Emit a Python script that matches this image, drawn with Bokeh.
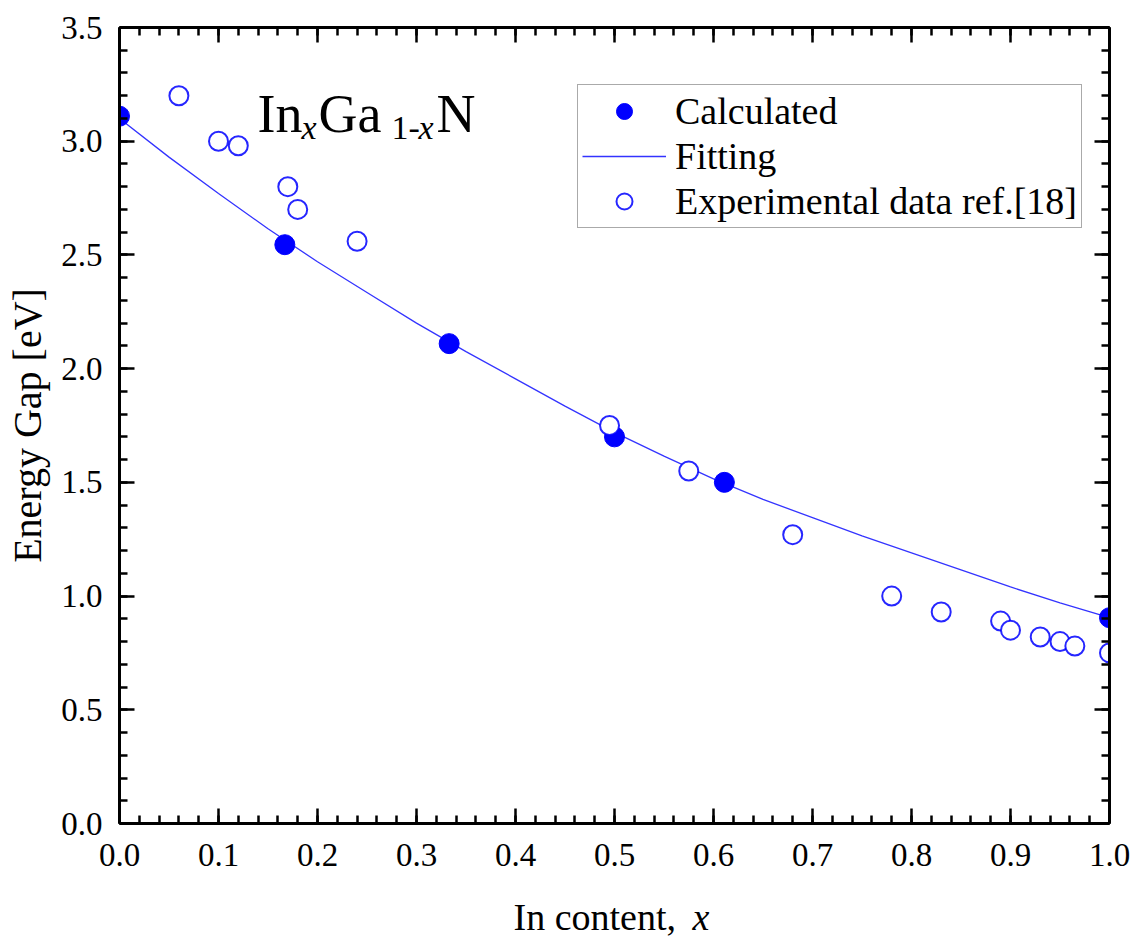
from bokeh.plotting import figure
from bokeh.models import (ColumnDataSource, Legend, LegendItem, LinearAxis, Label,
                          SingleIntervalTicker, PrintfTickFormatter, Range1d,
                          CustomJSTickFormatter)
from bokeh.embed import file_html
from bokeh.resources import INLINE

# ---- data ----
calc_x = [0.0, 0.167, 0.333, 0.5, 0.611, 1.0]
calc_y = [3.11, 2.545, 2.11, 1.70, 1.50, 0.905]

fit_x = [0.0, 0.05, 0.1, 0.15, 0.2, 0.25, 0.3, 0.35, 0.4, 0.45, 0.5,
         0.55, 0.6, 0.65, 0.7, 0.75, 0.8, 0.85, 0.9, 0.95, 1.0]
fit_y = [3.10, 2.93, 2.77, 2.615, 2.47, 2.335, 2.20, 2.075, 1.955, 1.835, 1.72,
         1.615, 1.515, 1.425, 1.345, 1.265, 1.19, 1.115, 1.04, 0.97, 0.905]

exp_x = [0.06, 0.10, 0.12, 0.17, 0.18, 0.24, 0.495, 0.575, 0.68, 0.78,
         0.83, 0.89, 0.90, 0.93, 0.95, 0.965, 1.0]
exp_y = [3.20, 3.00, 2.98, 2.80, 2.70, 2.56, 1.75, 1.55, 1.27, 1.00,
         0.93, 0.89, 0.85, 0.82, 0.80, 0.78, 0.75]

x_range = (0.0, 1.0)
y_range = (0.0, 3.5)

FONT = "Liberation Serif"
BLUE = "#0000FF"

W, H = 1135, 937
L, R, T, B = 119, 26, 27, 114

p = figure(width=W, height=H, output_backend="svg", toolbar_location=None,
           x_range=Range1d(*x_range), y_range=Range1d(*y_range),
           x_axis_type=None, y_axis_type=None,
           min_border_left=L, min_border_right=R, min_border_top=T, min_border_bottom=B)
p.xgrid.visible = False
p.ygrid.visible = False
p.outline_line_color = None
p.background_fill_color = "white"
p.border_fill_color = "white"

fw = W - L - R
fh = H - T - B


def px2x(px):
    return x_range[0] + (px - L) / fw * (x_range[1] - x_range[0])


def py2y(py):
    return y_range[0] + (T + fh - py) / fh * (y_range[1] - y_range[0])


def make_axis(loc, show_labels, interval):
    ax = LinearAxis(ticker=SingleIntervalTicker(interval=interval, num_minor_ticks=5),
                    formatter=PrintfTickFormatter(format="%.1f"))
    ax.axis_line_width = 3
    ax.axis_line_color = "black"
    ax.major_tick_in = 15
    ax.major_tick_out = 0
    ax.minor_tick_in = 8
    ax.minor_tick_out = 0
    ax.major_tick_line_width = 2.5
    ax.minor_tick_line_width = 2.5
    ax.major_tick_line_color = "black"
    ax.minor_tick_line_color = "black"
    ax.major_label_text_font = FONT
    ax.major_label_text_color = "black"
    ax.major_label_text_font_size = "33px"
    if not show_labels:
        ax.formatter = CustomJSTickFormatter(code="return ''")
        ax.major_label_standoff = 0
    p.add_layout(ax, loc)
    return ax


xb = make_axis("below", True, 0.1)
xb.major_label_standoff = 20
yl = make_axis("left", True, 0.5)
yl.major_label_standoff = 17
yl.axis_label = "Energy Gap [eV]"
yl.axis_label_text_font = FONT
yl.axis_label_text_font_size = "40px"
yl.axis_label_text_font_style = "normal"
yl.axis_label_text_color = "black"
yl.axis_label_standoff = 8
make_axis("above", False, 0.1)
make_axis("right", False, 0.5)

fit_src = ColumnDataSource(dict(x=fit_x, y=fit_y))
calc_src = ColumnDataSource(dict(x=calc_x, y=calc_y))
exp_src = ColumnDataSource(dict(x=exp_x, y=exp_y))

r_fit = p.line("x", "y", source=fit_src, line_color=BLUE, line_width=1.3, line_alpha=0.8)
r_calc = p.scatter("x", "y", source=calc_src, marker="circle", size=20,
                   fill_color=BLUE, line_color=BLUE, line_width=1)
r_exp = p.scatter("x", "y", source=exp_src, marker="circle", size=19,
                  fill_color="white", line_color=BLUE, line_width=2, line_alpha=0.85)

legend = Legend(items=[LegendItem(label="Calculated", renderers=[r_calc]),
                       LegendItem(label="Fitting", renderers=[r_fit]),
                       LegendItem(label="Experimental data ref.[18]", renderers=[r_exp])],
                location=(577 - L, (T + fh) - 228))
legend.label_text_font = FONT
legend.label_text_font_size = "38px"
legend.label_text_color = "black"
legend.glyph_width = 84
legend.glyph_height = 40
legend.label_height = 40
legend.label_standoff = 9
legend.spacing = 1
legend.padding = 4
legend.margin = 0
legend.border_line_color = "#555555"
legend.border_line_width = 1.5
legend.background_fill_color = "white"
legend.background_fill_alpha = 1
p.add_layout(legend, "center")


def add_text(txt, px, py, size, style="normal"):
    p.add_layout(Label(x=px2x(px), y=py2y(py), text=txt, text_font=FONT,
                       text_font_size=size, text_font_style=style,
                       text_color="black", text_baseline="alphabetic",
                       text_align="left"))


# formula title: In_x Ga_{1-x} N
add_text("In", 257, 113, "54px")
add_text("x", 301, 127, "34px", "italic")
add_text("Ga", 318, 113, "54px")
add_text("1-", 391, 127, "34px")
add_text("x", 418, 127, "34px", "italic")
add_text("N", 436, 113, "54px")

# x axis title "In content, x": labels in side panels (not clipped to the frame)
p.add_layout(Label(x=513, y=916, x_units="canvas", y_units="canvas", text="In content, ",
                   text_font=FONT, text_font_size="38px", text_font_style="normal",
                   text_color="black", text_baseline="alphabetic", text_align="left"), "below")
p.add_layout(Label(x=692, y=916, x_units="canvas", y_units="canvas", text="x",
                   text_font=FONT, text_font_size="38px", text_font_style="italic",
                   text_color="black", text_baseline="alphabetic", text_align="left"), "right")

open("out.html", "w").write(file_html(p, INLINE))
